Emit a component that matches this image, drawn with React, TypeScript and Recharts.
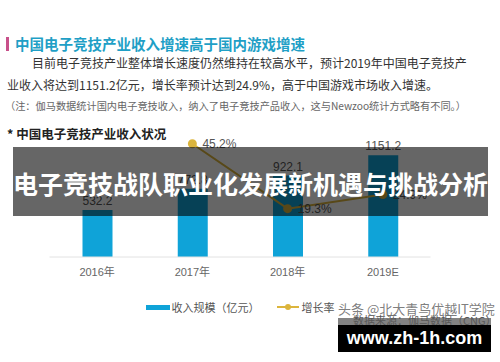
import { ComposedChart, Bar, Line, XAxis, YAxis, LabelList, Legend } from "recharts";

const years = ["2016年", "2017年", "2018年", "2019E"];
const revenue = [532.2, 772.8, 922.1, 1151.2];
const growth = [null, 45.2, 19.3, 24.9];

const data = years.map((year, i) => ({ year, revenue: revenue[i], growth: growth[i] }));

const BLUE = "#0fa3d8";
const GOLD = "#dcb53c";
const CN = '"Noto Sans CJK SC", "Noto Sans", sans-serif';
const LATIN = '"Liberation Sans", "Noto Sans CJK SC", sans-serif';

const GrowthLabel = (props: any) => {
  const { x, y, value } = props;
  if (value == null) return null;
  return (
    <text x={x + 10} y={y + 4} fill="#555" fontSize={12} fontFamily={LATIN}>
      {value}%
    </text>
  );
};

const LegendBox = () => (
  <div style={{ display: "flex", justifyContent: "center", alignItems: "center", fontFamily: CN, fontSize: 11, color: "#555" }}>
    <span style={{ display: "inline-block", width: 24, height: 5, background: BLUE, marginRight: 2 }} />
    <span>收入规模（亿元）</span>
    <svg width={22} height={10} style={{ marginLeft: 17, marginRight: 3 }}>
      <line x1={0} y1={5} x2={22} y2={5} stroke={GOLD} strokeWidth={2} />
      <circle cx={11} cy={5} r={3} fill={GOLD} />
    </svg>
    <span>增长率</span>
  </div>
);

const line = (top: number, left: number, size: number, color: string, text: string, extra: any = {}) => (
  <div
    style={{
      position: "absolute",
      top,
      left,
      fontSize: size,
      lineHeight: "18px",
      color,
      whiteSpace: "nowrap",
      fontFamily: CN,
      ...extra,
    }}
  >
    {text}
  </div>
);

export default function App() {
  return (
    <div style={{ position: "absolute", left: 0, top: 0, width: 500, height: 362, background: "#fff", overflow: "hidden" }}>
      <div style={{ position: "absolute", left: 6, top: 37, width: 3, height: 14, background: "#c8508a" }} />
      {line(34.5, 15, 14.5, "#1f9fc6", "中国电子竞技产业收入增速高于国内游戏增速", { fontWeight: 700 })}
      {line(54, 32, 12, "#333", "目前电子竞技产业整体增长速度仍然维持在较高水平，预计2019年中国电子竞技产")}
      {line(76, 7, 12, "#333", "业收入将达到1151.2亿元，增长率预计达到24.9%，高于中国游戏市场收入增速。")}
      {line(97, 5, 10.2, "#666", "（注：伽马数据统计国内电子竞技收入，纳入了电子竞技产品收入，这与Newzoo统计方式略有不同。）")}
      {line(125, 7, 12.5, "#222", "* 中国电子竞技产业收入状况", { fontWeight: 700 })}

      <div style={{ position: "absolute", left: 0, top: 0 }}>
        <ComposedChart width={500} height={362} data={data} margin={{ top: 143, right: 69.5, bottom: 59, left: 49.5 }}>
          <XAxis
            dataKey="year"
            height={30}
            tickLine={false}
            tickSize={0}
            tickMargin={11}
            axisLine={{ stroke: "#e2e2e2" }}
            tick={{ fill: "#666", fontSize: 11, fontFamily: LATIN }}
          />
          <YAxis yAxisId="left" hide domain={[0, 1290]} />
          <YAxis yAxisId="right" hide orientation="right" domain={[0, 45.5]} />
          <Legend
            content={<LegendBox />}
            wrapperStyle={{ position: "absolute", top: 299, left: 49.5, width: 381 }}
          />
          <Bar yAxisId="left" dataKey="revenue" fill={BLUE} barSize={30} isAnimationActive={false}>
            <LabelList dataKey="revenue" position="top" offset={5} fill="#555" fontSize={12} fontFamily={LATIN} />
          </Bar>
          <Line
            yAxisId="right"
            dataKey="growth"
            stroke={GOLD}
            strokeWidth={2}
            dot={{ r: 3.5, fill: GOLD, stroke: GOLD }}
            isAnimationActive={false}
          >
            <LabelList dataKey="growth" content={<GrowthLabel />} />
          </Line>
        </ComposedChart>
      </div>

      <div
        style={{
          position: "absolute",
          left: 13,
          top: 147,
          width: 475,
          height: 69,
          background: "rgba(0,0,0,0.6)",
          color: "#fff",
          fontFamily: CN,
          fontWeight: 700,
          fontSize: 25,
          lineHeight: "72px",
          textAlign: "center",
          whiteSpace: "nowrap",
        }}
      >
        电子竞技战队职业化发展新机遇与挑战分析
      </div>

      {line(311, 353, 11, "#555", "数据来源：伽马数据（CNG）")}
      <div style={{ position: "absolute", left: 338, top: 318, width: 153, height: 7, background: "rgba(90,90,90,0.75)" }} />
      <div
        style={{
          position: "absolute",
          left: 338,
          top: 325,
          width: 153,
          height: 27,
          background: "#000",
          color: "#fff",
          fontFamily: LATIN,
          fontWeight: 700,
          fontSize: 18,
          lineHeight: "27px",
          textAlign: "center",
        }}
      >
        www.zh-1h.com
      </div>
      {line(300, 338, 13, "rgba(110,110,110,0.9)", "头条 @北大青鸟优越IT学院")}
    </div>
  );
}
